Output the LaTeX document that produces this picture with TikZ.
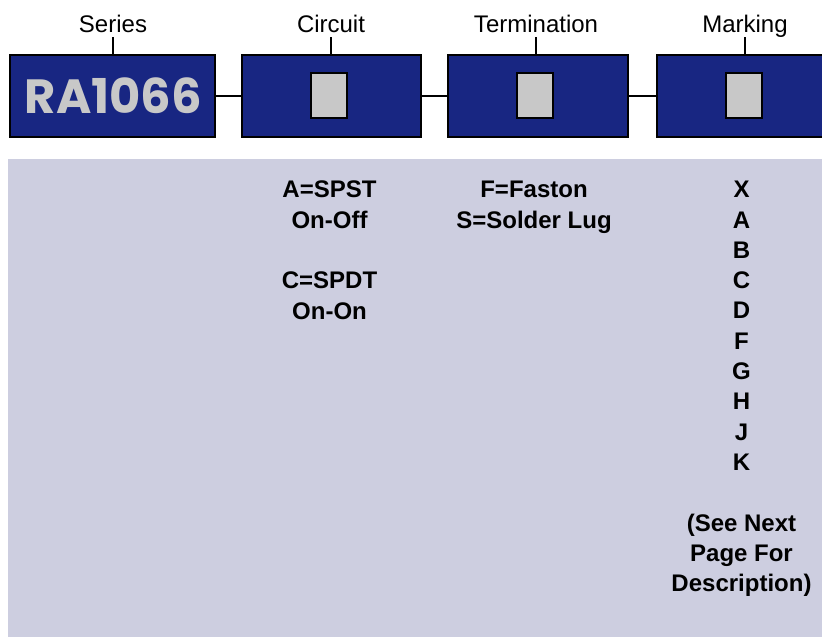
\documentclass[tikz,border=0pt]{standalone}
\usepackage{fontspec}
\setmainfont{Liberation Sans}
\newfontfamily\rafont{Poppins}

\definecolor{navy}{RGB}{24,38,130}
\definecolor{keygray}{RGB}{200,200,200}
\definecolor{panel}{RGB}{205,206,224}

\begin{document}
\begin{tikzpicture}[x=1pt,y=-1pt,
  field/.style={draw=black, line width=1.5pt, fill=navy, minimum height=82pt, inner sep=0pt},
  key/.style={draw=black, line width=2pt, fill=keygray, minimum width=36pt, minimum height=45pt, inner sep=0pt},
  head/.style={font=\fontsize{24}{28}\selectfont, anchor=base, inner sep=0pt},
  codes/.style={font=\bfseries\fontsize{24}{30.3}\selectfont, align=center, anchor=north, inner sep=0pt}]
  \useasboundingbox (0,0) rectangle (822,637);
  \fill[panel] (8,159) rectangle (822,637);

  \node[field, minimum width=205pt] (sbox) at (112.5,96) {};
  \node[field, minimum width=179pt] (cbox) at (331.5,96) {};
  \node[field, minimum width=180pt] (tbox) at (538,96) {};
  \node[field, minimum width=174pt] (mbox) at (744,96) {};

  \node[font=\rafont\bfseries\fontsize{48}{48}\selectfont, text=keygray, anchor=base, inner sep=0pt] (series) at (113.5,113) {RA1066};
  \node[key] (ckey) at (329,95) {};
  \node[key] (tkey) at (535,95) {};
  \node[key] (mkey) at (744,95) {};

  \draw[line width=1.5pt] (sbox.east) -- (cbox.west);
  \draw[line width=1.5pt] (cbox.east) -- (tbox.west);
  \draw[line width=1.5pt] (tbox.east) -- (mbox.west);

  \node[head] (slbl) at (113,32) {Series};
  \node[head] (clbl) at (331,32) {Circuit};
  \node[head] (tlbl) at (536,32) {Termination};
  \node[head] (mlbl) at (745,32) {Marking};
  \draw[line width=1.5pt] ([yshift=-5pt]slbl.base) -- (slbl.base |- sbox.north);
  \draw[line width=1.5pt] ([yshift=-5pt]clbl.base) -- (clbl.base |- cbox.north);
  \draw[line width=1.5pt] ([yshift=-5pt]tlbl.base) -- (tlbl.base |- tbox.north);
  \draw[line width=1.5pt] ([yshift=-5pt]mlbl.base) -- (mlbl.base |- mbox.north);

  \node[codes] (circ) at (329.5,181) {A=SPST\\On-Off\\[30.3pt]C=SPDT\\On-On};
  \node[codes] (term) at (534,181) {F=Faston\\S=Solder Lug};
  \node[codes] (mark) at (741.5,181) {X\\A\\B\\C\\D\\F\\G\\H\\J\\K\\[30.3pt](See Next\\Page For\\Description)};
\end{tikzpicture}
\end{document}
